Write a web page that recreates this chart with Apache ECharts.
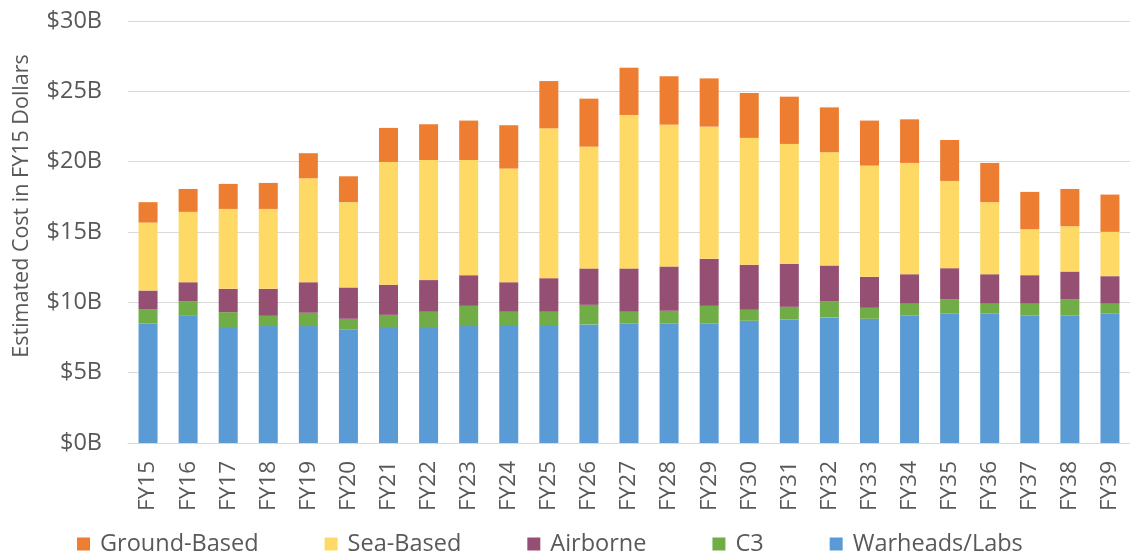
<!DOCTYPE html>
<html>
<head>
<meta charset="utf-8">
<script src="https://cdn.jsdelivr.net/npm/echarts@6/dist/echarts.min.js"></script>
<style>
  html, body { margin: 0; padding: 0; background: #fff; }
  #chart { width: 1130px; height: 556px; }
</style>
</head>
<body>
<div id="chart"></div>
<script>
// fiscal years
var years = ['FY15','FY16','FY17','FY18','FY19','FY20','FY21','FY22','FY23','FY24','FY25','FY26','FY27',
             'FY28','FY29','FY30','FY31','FY32','FY33','FY34','FY35','FY36','FY37','FY38','FY39'];

// costs in $B
var warheads = [8.52,9.04,8.24,8.31,8.31,8.05,8.24,8.24,8.31,8.38,8.38,8.43,8.52,
                8.52,8.52,8.69,8.78,8.93,8.83,9.09,9.19,9.19,9.09,9.09,9.19];
var c3       = [1.00,1.02,1.06,0.73,0.95,0.78,0.87,1.09,1.44,0.95,0.95,1.39,0.81,
                0.88,1.23,0.78,0.90,1.16,0.78,0.81,1.04,0.71,0.81,1.14,0.71];
var airborne = [1.32,1.37,1.66,1.92,2.17,2.23,2.14,2.25,2.18,2.10,2.39,2.59,3.08,
                3.15,3.34,3.20,3.06,2.53,2.20,2.10,2.20,2.10,2.03,1.96,1.96];
var seaBased = [4.83,5.00,5.68,5.68,7.39,6.06,8.73,8.54,8.19,8.08,10.65,8.66,10.91,
                10.08,9.40,9.02,8.52,8.05,7.91,7.91,6.20,5.12,3.27,3.22,3.15];
var groundBased = [1.45,1.63,1.78,1.85,1.78,1.84,2.42,2.54,2.80,3.08,3.36,3.41,3.36,
                   3.44,3.43,3.19,3.36,3.19,3.20,3.10,2.91,2.79,2.65,2.65,2.65];

var yTicks = [0, 5, 10, 15, 20, 25, 30];

var font = 'Open Sans';
var grey = '#595959';

function bar(name, data, color) {
    return {
        name: name,
        type: 'bar',
        stack: 'cost',
        data: data,
        barWidth: 19,
        itemStyle: { color: color },
        emphasis: { disabled: true }
    };
}

var option = {
    animation: false,
    grid: { left: 128, top: 21, width: 1009, height: 422 },
    legend: {
        data: ['Ground-Based', 'Sea-Based', 'Airborne', 'C3', 'Warheads/Labs'],
        left: 72,
        top: 527,
        icon: 'rect',
        itemWidth: 13,
        itemHeight: 13,
        itemGap: 66,
        textStyle: { fontFamily: font, fontSize: 23.5, color: grey, padding: [0, 0, 0, 5] }
    },
    xAxis: {
        type: 'category',
        data: years,
        axisLine: { lineStyle: { color: '#d9d9d9' } },
        axisTick: { show: false },
        axisLabel: { rotate: 90, margin: 18, fontFamily: font, fontSize: 22.5, color: grey, interval: 0 }
    },
    yAxis: {
        type: 'value',
        min: yTicks[0],
        max: yTicks[yTicks.length - 1],
        interval: 5,
        name: 'Estimated Cost in FY15 Dollars',
        nameLocation: 'middle',
        nameGap: 95,
        nameTextStyle: { fontFamily: font, fontSize: 21.5, color: grey, padding: [0, 0, 0, 52] },
        axisLine: { show: false },
        axisTick: { show: false },
        splitLine: { lineStyle: { color: '#d9d9d9' } },
        axisLabel: {
            margin: 26, fontFamily: font, fontSize: 23.5, color: grey,
            formatter: function (v) { return '$' + v + 'B'; }
        }
    },
    series: [
        bar('Warheads/Labs', warheads, '#5b9bd5'),
        bar('C3', c3, '#70ad47'),
        bar('Airborne', airborne, '#954f72'),
        bar('Sea-Based', seaBased, '#ffd966'),
        bar('Ground-Based', groundBased, '#ed7d31')
    ]
};

echarts.init(document.getElementById('chart')).setOption(option);
</script>
</body>
</html>
